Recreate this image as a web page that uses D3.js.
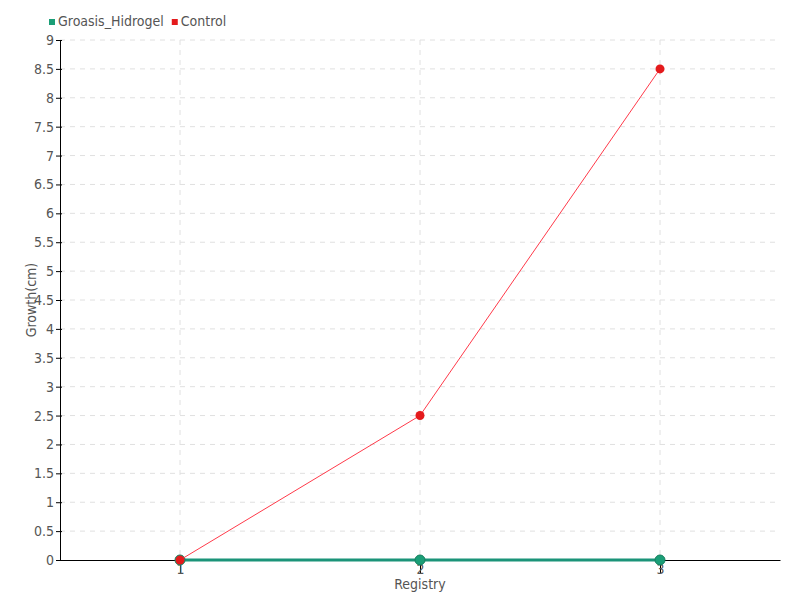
<!DOCTYPE html>
<html>
<head>
<meta charset="utf-8">
<script src="https://cdn.jsdelivr.net/npm/d3@7"></script>
<style>
  body { margin: 0; background: #fff; }
  text { font-family: "DejaVu Sans Condensed", "Liberation Sans Narrow", sans-serif; fill: #555; }
  .grid line { stroke: #e0e0e0; stroke-dasharray: 5,5; }
  .axis path, .axis line { stroke: #000; }
</style>
</head>
<body>
<script>
var registry = [1, 2, 3];
var hidrogel = [0, 0, 0];
var control = [0, 2.5, 8.5];
var yTicks = [0, 0.5, 1, 1.5, 2, 2.5, 3, 3.5, 4, 4.5, 5, 5.5, 6, 6.5, 7, 7.5, 8, 8.5, 9];
var seriesNames = ["Groasis_Hidrogel", "Control"];
var seriesColors = ["#1b9e77", "#e41a1c"];

var width = 800, height = 600;
var margin = {left: 60, right: 20, top: 40, bottom: 40};
var w = width - margin.left - margin.right;
var h = height - margin.top - margin.bottom;

var x = d3.scaleLinear().domain([0.5, 3.5]).range([0, w]);
var y = d3.scaleLinear().domain([0, 9]).range([h, 0]);

var svg = d3.select("body").append("svg")
    .attr("width", width).attr("height", height);

var g = svg.append("g")
    .attr("transform", "translate(" + margin.left + "," + margin.top + ")");

// grid
g.append("g").attr("class", "grid")
  .selectAll("line").data(yTicks.slice(1)).enter().append("line")
  .attr("x1", 0).attr("x2", w)
  .attr("y1", function(d) { return y(d); })
  .attr("y2", function(d) { return y(d); });

g.append("g").attr("class", "grid")
  .selectAll("line").data(registry).enter().append("line")
  .attr("x1", function(d) { return x(d); })
  .attr("x2", function(d) { return x(d); })
  .attr("y1", 0).attr("y2", h);

// axes
var yAxis = d3.axisLeft(y).tickValues(yTicks).tickSize(4).tickSizeOuter(0).tickPadding(2)
    .tickFormat(function(d) { return d; });
var xAxis = d3.axisBottom(x).tickValues(registry).tickSize(13).tickSizeOuter(0)
    .tickFormat(d3.format("d"));

var ya = g.append("g").attr("class", "axis").call(yAxis);
ya.selectAll(".tick line").attr("x2", 2).attr("x1", -4);
ya.selectAll("text").style("font-size", "14px").attr("fill", "#555");

var xa = g.append("g").attr("class", "axis")
    .attr("transform", "translate(0," + h + ")").call(xAxis);
xa.selectAll(".tick line").attr("stroke", "#555");
xa.selectAll("text").attr("y", 4).style("font-size", "14px").attr("fill", "#555");

// axis titles
svg.append("text")
  .attr("x", margin.left + w / 2).attr("y", 589)
  .style("text-anchor", "middle").style("font-size", "14px")
  .text("Registry");

svg.append("text")
  .attr("transform", "translate(36," + (margin.top + h / 2) + ") rotate(-90)")
  .style("text-anchor", "middle").style("font-size", "14px")
  .text("Growth(cm)");

var line = d3.line()
  .x(function(d, i) { return x(registry[i]); })
  .y(function(d) { return y(d); });

// hidrogel
g.append("path").datum(hidrogel)
  .attr("fill", "none").attr("stroke", "#1b9479").attr("stroke-width", 3)
  .attr("d", line);
g.selectAll(".dotH").data(hidrogel).enter().append("circle")
  .attr("class", "dotH")
  .attr("cx", function(d, i) { return x(registry[i]); })
  .attr("cy", function(d) { return y(d); })
  .attr("r", 5)
  .attr("fill", "#1b9e77").attr("stroke", "#17805f").attr("stroke-width", 1);

// control
g.append("path").datum(control)
  .attr("fill", "none").attr("stroke", "#ff3a4a").attr("stroke-width", 1)
  .attr("d", line);
g.selectAll(".dotC").data(control).enter().append("circle")
  .attr("class", "dotC")
  .attr("cx", function(d, i) { return x(registry[i]); })
  .attr("cy", function(d) { return y(d); })
  .attr("r", 4.5)
  .attr("fill", "#e41a1c");

// legend
var leg = svg.append("g").attr("class", "legend");
var lx = 49;
seriesNames.forEach(function(name, i) {
  var item = leg.append("g").attr("transform", "translate(" + lx + ",0)");
  item.append("rect")
    .attr("x", 0).attr("y", 19).attr("width", 6).attr("height", 6)
    .attr("fill", seriesColors[i]);
  var t = item.append("text")
    .attr("x", 9).attr("y", 26)
    .style("font-size", "14px")
    .text(name);
  lx += 9 + t.node().getComputedTextLength() + 8;
});
</script>
</body>
</html>
